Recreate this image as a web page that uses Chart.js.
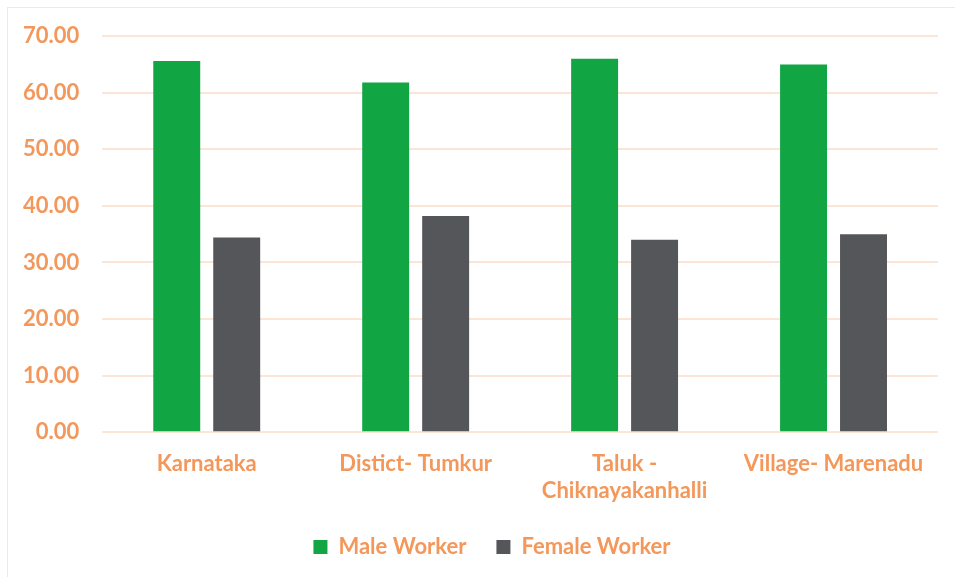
<!DOCTYPE html>
<html>
<head>
<meta charset="utf-8">
<script src="https://cdn.jsdelivr.net/npm/chart.js@4"></script>
<style>
  body { margin: 0; background: #fff; }
  #wrap { position: relative; width: 955px; height: 577px; overflow: hidden; }
  #frame { position: absolute; left: 7px; top: 7px; width: 980px; height: 600px; border: 1.5px solid #FCE4D6; box-sizing: border-box; }
  canvas { position: absolute; left: 0; top: 0; }
</style>
</head>
<body>
<div id="wrap">
  <div id="frame"></div>
  <canvas id="chart" width="955" height="577"></canvas>
</div>
<script>
const categories = ['Karnataka', 'Distict- Tumkur', ['Taluk -', 'Chiknayakanhalli'], 'Village- Marenadu'];
const maleWorker = [65.6, 61.8, 66.0, 65.0];
const femaleWorker = [34.4, 38.2, 34.0, 35.0];
const yTicks = { min: 0, max: 70, step: 10 };

const orange = '#F4975A';
const gridColor = '#FCE4D6';
const labelFont = { family: 'Lato, "Open Sans", sans-serif', size: 22, weight: 'bold' };

// legend padding also spaces the items apart; trim the extra height it adds
// and move the row back into place
const legendTrim = {
    id: 'legendTrim',
    afterInit(chart) {
        const legend = chart.legend;
        const fit = legend.fit.bind(legend);
        legend.fit = function () {
            fit();
            this.height -= 10;
        };
    },
    afterLayout(chart) {
        const legend = chart.legend;
        legend.top -= 9;
        legend.bottom -= 9;
        legend.left += 23;
        legend.right += 23;
    }
};

new Chart(document.getElementById('chart'), {
    type: 'bar',
    data: {
        labels: categories,
        datasets: [
            {
                label: 'Male Worker',
                data: maleWorker,
                backgroundColor: '#12A544',
                categoryPercentage: 0.574,
                barPercentage: 0.783
            },
            {
                label: 'Female Worker',
                data: femaleWorker,
                backgroundColor: '#55565A',
                categoryPercentage: 0.574,
                barPercentage: 0.783
            }
        ]
    },
    plugins: [legendTrim],
    options: {
        responsive: false,
        animation: false,
        layout: { padding: { left: 0, right: 17, top: 29, bottom: 10 } },
        plugins: {
            tooltip: { enabled: false },
            legend: {
                position: 'bottom',
                labels: {
                    color: orange,
                    font: labelFont,
                    boxWidth: 14,
                    boxHeight: 14,
                    padding: 30
                }
            }
        },
        scales: {
            x: {
                grid: { display: false },
                border: { display: false },
                ticks: { color: orange, font: labelFont, padding: 11, maxRotation: 0 }
            },
            y: {
                min: yTicks.min,
                max: yTicks.max,
                border: { display: false },
                grid: { color: gridColor, lineWidth: 2, drawTicks: false },
                ticks: {
                    stepSize: yTicks.step,
                    color: orange,
                    font: labelFont,
                    padding: 23,
                    callback: v => v.toFixed(2)
                }
            }
        }
    }
});
</script>
</body>
</html>
